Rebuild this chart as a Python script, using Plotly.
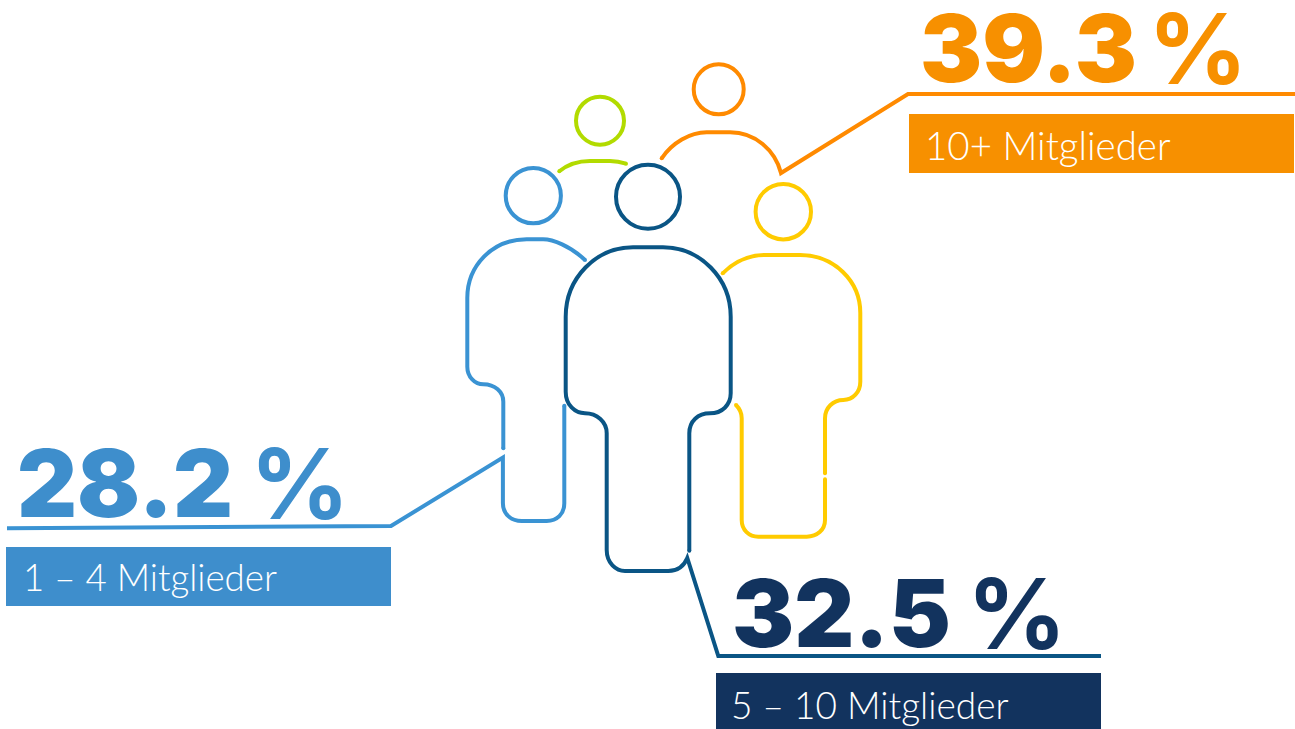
import plotly.graph_objects as go

# --- data ---
categories = ["10+ Mitglieder", "5 – 10 Mitglieder", "1 – 4 Mitglieder"]
shares = [39.3, 32.5, 28.2]
text_colors = ["#F79000", "#12335E", "#3E8ECC"]

# --- pictogram geometry (decorative outlines, 1295x729 canvas) ---
BLUE, GREEN, ORANGE, DARK, YELLOW = "#3A93D3", "#B2DB00", "#FF8A00", "#0A5585", "#FFCB00"
LW = 4
heads = [
    (533.3, 195.7, 27.6, BLUE),
    (600.0, 120.7, 24.0, GREEN),
    (718.7, 89.3, 25.0, ORANGE),
    (648.0, 196.7, 32.0, DARK),
    (783.3, 211.7, 27.7, YELLOW),
]
outlines = [
    ("M585,260 C570,246 553,239.3 543,239.3 L526.7,239.3 C492,239.3 467.3,266 467.3,298 "
     "L467.3,366.7 C467.3,377 475,384.3 483.3,384.3 C495,384.3 503.3,392 503.3,401.7 L503.3,448.3", BLUE),
    ("M7,528.3 L391,526 L502.9,457.5 L502.9,503 C502.9,514 511,521 521.7,521 L546.7,521 "
     "C557,521 564.3,514 564.3,503.3 L564.3,405.7", BLUE),
    ("M559.3,171.3 C567,165 578,161 590,161 L610,161 C616,161 621,162 626,163.7", GREEN),
    ("M661.7,158.3 C672,143 690,132.3 706.7,132.3 L730,132.3 C755,132.3 775,150 781,173 "
     "L908,94 L1295,94", ORANGE),
    ("M722.7,273.3 C733,263 748,255 765,255 L800,255 C834,255 860.3,281 860.3,313 L860.3,381.7 "
     "C860.3,392 853,400 843.3,400 C833,400 825,408 825,418.3 L825,473.3", YELLOW),
    ("M825,479.3 L825,520 C825,530 817,536.7 806.7,536.7 L758.3,536.7 C749,536.7 741.7,530 741.7,520 "
     "L741.7,418.3 C741.7,413 739.5,408.5 736,405", YELLOW),
    ("M689.3,550.7 L689.3,433.3 C689.3,421 698,413.3 710,413.3 C722,413.3 730.7,405 730.7,393.3 "
     "L730.7,316.7 C730.7,278 700,247.3 663,247.3 L633,247.3 C596,247.3 565.7,278 565.7,316.7 "
     "L565.7,391.7 C565.7,405 575,413.3 585,413.3 C597,413.3 606.7,422 606.7,433.3 L606.7,550 "
     "C606.7,563 616,571 625,571 L668.3,571 C678,571 684,566 687.3,558 L718.3,656 L1101,656", DARK),
]
round_ends = [
    (585, 260, BLUE), (503.3, 448.3, BLUE), (564.3, 405.7, BLUE),
    (559.3, 171.3, GREEN), (626, 163.7, GREEN), (661.7, 158.3, ORANGE),
    (722.7, 273.3, YELLOW), (825, 473.3, YELLOW), (825, 479.3, YELLOW), (736, 405, YELLOW),
    (689.3, 550.7, DARK),
]
# label boxes and text anchors: x0, x1, y0, y1, label x, label y, label size, number x, number y, percent x
boxes = [
    (909, 1294, 114, 173, 923, 145, 38.5, 918, 48, 1146),
    (716, 1101, 673, 729, 729, 704, 37, 730, 613, 965),
    (6, 391, 547, 606, 21, 577, 36.7, 15, 483, 248),
]

shapes, annotations = [], []
for x, y, r, c in heads:
    shapes.append(dict(type="circle", x0=x - r, x1=x + r, y0=y - r, y1=y + r,
                       line=dict(color=c, width=LW), fillcolor="rgba(0,0,0,0)"))
for p, c in outlines:
    shapes.append(dict(type="path", path=p, line=dict(color=c, width=LW), fillcolor="rgba(0,0,0,0)"))
for x, y, c in round_ends:
    rr = LW / 2
    shapes.append(dict(type="circle", x0=x - rr, x1=x + rr, y0=y - rr, y1=y + rr,
                       line=dict(width=0), fillcolor=c))

for cat, val, col, b in zip(categories, shares, text_colors, boxes):
    x0, x1, y0, y1, lx, ly, ls, nx, ny, px = b
    shapes.append(dict(type="rect", x0=x0, x1=x1, y0=y0, y1=y1, line=dict(width=0), fillcolor=col))
    annotations.append(dict(x=lx, y=ly, text=cat, showarrow=False, xanchor="left", yanchor="middle",
                            xref="x", yref="y",
                            font=dict(family="Lato", size=ls, color="white", weight=300)))
    annotations.append(dict(x=nx, y=ny, text=f"{val:.1f}", showarrow=False, xanchor="left", yanchor="middle",
                            xref="x", yref="y",
                            font=dict(family="Inter", size=93, color=col, weight=900)))
    annotations.append(dict(x=px, y=ny, text="%", showarrow=False, xanchor="left", yanchor="middle",
                            xref="x", yref="y",
                            font=dict(family="Inter", size=98, color=col, weight=700)))

fig = go.Figure()
fig.add_trace(go.Scatter(x=[0, 1295], y=[0, 729], mode="markers", marker=dict(opacity=0), hoverinfo="skip"))
fig.update_layout(
    width=1295, height=729, margin=dict(l=0, r=0, t=0, b=0),
    paper_bgcolor="white", plot_bgcolor="white", showlegend=False,
    shapes=shapes, annotations=annotations,
    xaxis=dict(range=[0, 1295], visible=False, fixedrange=True),
    yaxis=dict(range=[729, 0], visible=False, fixedrange=True),
)
fig.write_html("out.html", config={"displayModeBar": False},
               post_script="document.body.style.margin='0';document.body.style.overflow='hidden';")
